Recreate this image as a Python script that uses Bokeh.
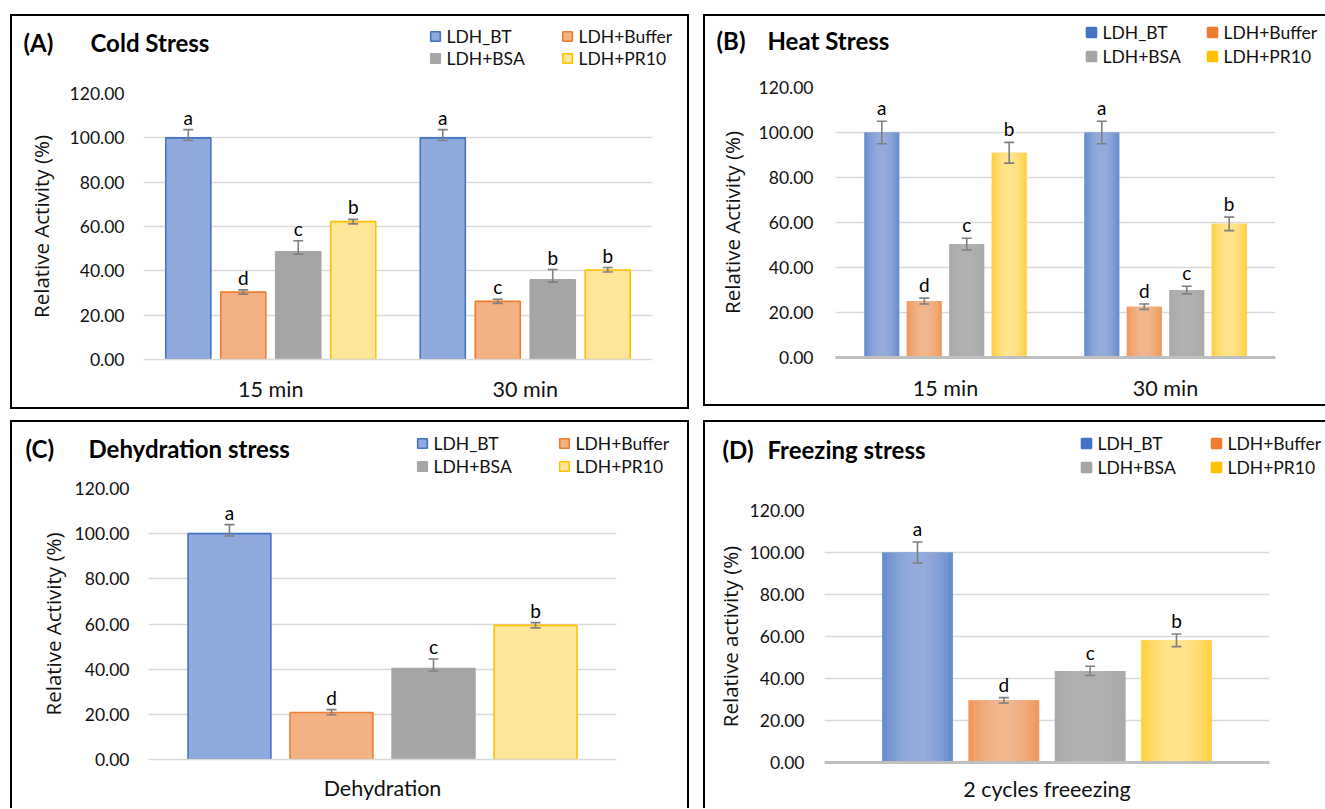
from bokeh.plotting import figure
from bokeh.models import (ColumnDataSource, FactorRange, Range1d, FixedTicker, Spacer,
                          NumeralTickFormatter, Whisker, TeeHead, Legend, LegendItem, Label)
from bokeh.transform import dodge
from bokeh.layouts import column, row
from bokeh.embed import file_html
from bokeh.resources import INLINE
from bokeh.core.properties import value

# ---------------- data ----------------
SERIES = ["LDH_BT", "LDH+Buffer", "LDH+BSA", "LDH+PR10"]
Y_TICKS = [0, 20, 40, 60, 80, 100, 120]

# (A) Cold Stress
A_CATS = ["15 min", "30 min"]
A_BT = [100.0, 100.0]
A_BUFFER = [30.4, 26.2]
A_BSA = [48.6, 35.9]
A_PR10 = [62.2, 40.4]
A_ERR_UP = [[3.7, 3.7], [1.0, 1.0], [5.0, 4.7], [1.0, 1.1]]
A_ERR_DN = [[1.2, 1.2], [0.9, 0.9], [1.1, 1.0], [1.0, 0.9]]
A_LETTERS = [["a", "a"], ["d", "c"], ["c", "b"], ["b", "b"]]

# (B) Heat Stress
B_CATS = ["15 min", "30 min"]
B_BT = [100.0, 100.0]
B_BUFFER = [25.1, 22.6]
B_BSA = [50.4, 30.0]
B_PR10 = [91.0, 59.4]
B_ERR_UP = [[5.0, 5.0], [1.3, 1.2], [2.6, 1.7], [4.6, 3.0]]
B_ERR_DN = [[5.0, 5.0], [1.3, 1.2], [2.6, 1.7], [4.6, 3.0]]
B_LETTERS = [["a", "a"], ["d", "d"], ["c", "c"], ["b", "b"]]

# (C) Dehydration stress
C_CATS = ["Dehydration"]
C_BT = [100.0]
C_BUFFER = [20.8]
C_BSA = [40.3]
C_PR10 = [59.4]
C_ERR_UP = [[4.0], [1.3], [4.2], [1.2]]
C_ERR_DN = [[1.0], [1.0], [1.1], [1.1]]
C_LETTERS = [["a"], ["d"], ["c"], ["b"]]

# (D) Freezing stress
D_CATS = ["2 cycles freeezing"]
D_BT = [100.0]
D_BUFFER = [29.6]
D_BSA = [43.6]
D_PR10 = [58.2]
D_ERR_UP = [[5.0], [1.3], [2.2], [3.0]]
D_ERR_DN = [[5.0], [1.3], [2.2], [3.0]]
D_LETTERS = [["a"], ["d"], ["c"], ["b"]]

# ---------------- styles ----------------
OUT_FILL = ["#8FAADC", "#F4B183", "#A5A5A5", "#FFE699"]
OUT_LINE = ["#4472C4", "#ED7D31", "#A5A5A5", "#FFC000"]
GRAD_DARK = ["#4472C4", "#ED7D31", "#A5A5A5", "#FFC000"]
GRAD_LIGHT = ["#A3B9E3", "#F7C3A0", "#B2B2B2", "#FFEBA8"]
ERR_COLOR = "#7F7F7F"
GRID_COLOR = "#D9D9D9"
TXT = "#111111"
BORDER = 2
NUM_FONT = "Lato"
SANS_FONT = "Open Sans"
GW, GH = 24, 30     # legend glyph box; the square key is drawn at 0.4 * GW


def panel(cats, vals, eup, edn, letters, tag, title, ylabel, gradient, g):
    sl, st, sr, sb = g["sides"]
    bl, bt, br, bb = [BORDER if s else 0 for s in (sl, st, sr, sb)]
    bx0, by0, bx1, by1 = g["box"]
    cx0, cy0 = bx0 + bl, by0 + bt
    cw, ch = bx1 - bx0 - bl - br, by1 - by0 - bt - bb
    hh = g["header_h"]
    fx0, fy0, fx1, fy1 = g["frame"]

    # ---------- chart ----------
    p = figure(width=cw, height=ch - hh, x_range=FactorRange(*cats), y_range=Range1d(0, 120),
               output_backend="svg", toolbar_location=None,
               min_border_left=fx0 - cx0, min_border_right=cx0 + cw - fx1,
               min_border_top=fy0 - (cy0 + hh), min_border_bottom=cy0 + ch - fy1)
    p.x_range.range_padding = 0
    p.outline_line_color = None
    p.background_fill_color = "white"
    p.border_fill_color = "white"
    p.xgrid.visible = False
    p.ygrid.grid_line_color = GRID_COLOR
    p.ygrid.grid_line_width = 1.3

    p.yaxis.ticker = FixedTicker(ticks=Y_TICKS)
    p.yaxis.formatter = NumeralTickFormatter(format="0.00")
    p.yaxis.axis_line_color = None
    p.yaxis.major_tick_line_color = None
    p.yaxis.minor_tick_line_color = None
    p.yaxis.major_tick_out = 0
    p.yaxis.major_tick_in = 0
    p.yaxis.major_label_standoff = fx0 - g["ytick_right"]
    p.yaxis.major_label_text_font = NUM_FONT
    p.yaxis.major_label_text_font_size = "17.5px"
    p.yaxis.major_label_text_color = TXT
    p.yaxis.axis_label = ylabel
    p.yaxis.axis_label_text_font = SANS_FONT
    p.yaxis.axis_label_text_font_size = "20.5px"
    p.yaxis.axis_label_text_font_style = "normal"
    p.yaxis.axis_label_text_color = TXT
    p.yaxis.axis_label_standoff = g["ylab_standoff"]

    p.xaxis.major_tick_line_color = None
    p.xaxis.minor_tick_line_color = None
    p.xaxis.major_tick_out = 0
    p.xaxis.major_tick_in = 0
    p.xaxis.major_label_standoff = g["xlab_standoff"]
    p.xaxis.major_label_text_font = NUM_FONT
    p.xaxis.major_label_text_font_size = "21.5px"
    p.xaxis.major_label_text_color = TXT
    if gradient:
        p.xaxis.axis_line_color = "#BFBFBF"
        p.xaxis.axis_line_width = 3
    else:
        p.xaxis.axis_line_color = GRID_COLOR
        p.xaxis.axis_line_width = 1.3

    bw, pitch = g["bar_w"], g["pitch"]
    for i in range(4):
        top = vals[i]
        src = ColumnDataSource(dict(
            x=cats, top=top,
            upper=[t + u for t, u in zip(top, eup[i])],
            lower=[t - d for t, d in zip(top, edn[i])],
            letter=letters[i]))
        xs = dodge("x", (i - 1.5) * pitch, range=p.x_range)
        if gradient:
            p.vbar(x=xs, top="top", width=bw, source=src,
                   fill_color=GRAD_DARK[i], line_color=None)
            p.vbar(x=xs, top="top", width=bw, source=src,
                   fill_color=GRAD_LIGHT[i], fill_alpha=0.4, line_color=None)
            for f in (0.86, 0.73, 0.61, 0.49, 0.37, 0.25):
                p.vbar(x=xs, top="top", width=bw * f, source=src,
                       fill_color=GRAD_LIGHT[i], fill_alpha=0.2, line_color=None)
        else:
            p.vbar(x=xs, top="top", width=bw, source=src,
                   fill_color=OUT_FILL[i], line_color=OUT_LINE[i], line_width=1.6)
        wk = Whisker(base=xs, upper="upper", lower="lower", source=src,
                     line_color=ERR_COLOR, line_width=1.6,
                     upper_head=TeeHead(size=10, line_color=ERR_COLOR, line_width=1.6),
                     lower_head=TeeHead(size=10, line_color=ERR_COLOR, line_width=1.6))
        wk.level = "annotation"
        p.add_layout(wk)
        p.text(x=xs, y="upper", text="letter", source=src, text_align="center",
               text_baseline="bottom", y_offset=-g["letter_gap"],
               text_font=value(NUM_FONT), text_font_size="19px", text_color="#000000")

    # ---------- header (title + legend) ----------
    h = figure(width=cw, height=hh, x_range=Range1d(0, cw), y_range=Range1d(0, hh),
               output_backend="svg", toolbar_location=None, x_axis_type=None, y_axis_type=None,
               min_border=0, min_border_left=0, min_border_right=0,
               min_border_top=0, min_border_bottom=0)
    h.outline_line_color = None
    h.xgrid.visible = False
    h.ygrid.visible = False
    h.background_fill_color = "white"
    h.border_fill_color = "white"
    # legend keys: one off-canvas point each, only used to draw the legend squares
    key_src = ColumnDataSource(dict(x=[-1000], y=[-1000]))
    keys = []
    for i in range(4):
        if gradient:
            r = h.scatter(x="x", y="y", source=key_src, marker="square",
                          fill_color=GRAD_DARK[i], line_color=GRAD_DARK[i], line_width=2)
        else:
            r = h.scatter(x="x", y="y", source=key_src, marker="square",
                          fill_color=OUT_FILL[i], line_color=OUT_LINE[i], line_width=1.6)
        keys.append(r)
    order = [(0, 0, 0), (1, 1, 0), (2, 0, 1), (3, 1, 1)]   # series, column, row
    for k, c, rr in order:
        sqx = g["leg_x"][c]
        cy = g["leg_y"][rr]
        lg = Legend(items=[LegendItem(label=SERIES[k], renderers=[keys[k]])],
                    location=(sqx - 8.5 - cx0, (cy0 + hh) - (cy + GH / 2)),
                    orientation="vertical", glyph_width=GW, glyph_height=GH,
                    label_height=GH, spacing=0, label_standoff=0,
                    padding=0, margin=0, border_line_color=None,
                    background_fill_alpha=0,
                    label_text_font=NUM_FONT, label_text_font_size="17.5px",
                    label_text_color=TXT)
        h.add_layout(lg)
    for txt, x in ((tag, g["tag_x"]), (title, g["title_x"])):
        h.add_layout(Label(x=x - cx0, y=(cy0 + hh) - g["title_cy"],
                           text=txt, text_font=NUM_FONT, text_font_size="24px",
                           text_font_style="bold", text_baseline="middle",
                           text_align="left", text_color="#000000"))

    css = {}
    for name, s in (("left", sl), ("top", st), ("right", sr), ("bottom", sb)):
        css["border-" + name] = (f"{BORDER}px solid #000" if s else "none")
    css["box-sizing"] = "content-box"
    return column(row(h), row(p), styles=css)


GA = dict(box=(10, 14, 689, 409), sides=(1, 1, 1, 1), frame=(143, 93, 652, 359), header_h=64,
          ytick_right=124, ylab_standoff=12, xlab_standoff=16, bar_w=0.177, pitch=0.216,
          letter_gap=1, leg_x=(431, 563), leg_y=(36, 58), tag_x=23, title_x=90, title_cy=42)
GB = dict(box=(703, 14, 1325, 406), sides=(1, 1, 0, 1), frame=(835, 87, 1275, 357), header_h=58,
          ytick_right=813, ylab_standoff=10, xlab_standoff=17, bar_w=0.159, pitch=0.193,
          letter_gap=2, leg_x=(1087, 1208), leg_y=(32, 56), tag_x=716, title_x=767, title_cy=40)
GC = dict(box=(10, 420, 689, 808), sides=(1, 1, 1, 0), frame=(148, 488, 616, 759), header_h=55,
          ytick_right=129, ylab_standoff=5, xlab_standoff=15, bar_w=0.177, pitch=0.218,
          letter_gap=1, leg_x=(418, 560), leg_y=(443, 466), tag_x=25, title_x=88, title_cy=448)
GD = dict(box=(703, 420, 1325, 808), sides=(1, 1, 0, 0), frame=(824, 510, 1269, 762), header_h=60,
          ytick_right=804, ylab_standoff=3, xlab_standoff=13, bar_w=0.159, pitch=0.194,
          letter_gap=2, leg_x=(1082, 1212), leg_y=(443, 467), tag_x=722, title_x=767, title_cy=449)

pA = panel(A_CATS, [A_BT, A_BUFFER, A_BSA, A_PR10], A_ERR_UP, A_ERR_DN, A_LETTERS,
           "(A)", "Cold Stress", "Relative Activity (%)", False, GA)
pB = panel(B_CATS, [B_BT, B_BUFFER, B_BSA, B_PR10], B_ERR_UP, B_ERR_DN, B_LETTERS,
           "(B)", "Heat Stress", "Relative Activity (%)", True, GB)
pC = panel(C_CATS, [C_BT, C_BUFFER, C_BSA, C_PR10], C_ERR_UP, C_ERR_DN, C_LETTERS,
           "(C)", "Dehydration stress", "Relative Activity (%)", False, GC)
pD = panel(D_CATS, [D_BT, D_BUFFER, D_BSA, D_PR10], D_ERR_UP, D_ERR_DN, D_LETTERS,
           "(D)", "Freezing stress", "Relative activity (%)", True, GD)

PAGE0 = 0   # the page template sets no body margin
row1_bottom = max(GA["box"][3], GB["box"][3])
layout = column(
    Spacer(width=10, height=GA["box"][1] - PAGE0),
    row(Spacer(width=GA["box"][0] - PAGE0, height=10), pA,
        Spacer(width=GB["box"][0] - GA["box"][2], height=10), pB),
    Spacer(width=10, height=GC["box"][1] - row1_bottom),
    row(Spacer(width=GC["box"][0] - PAGE0, height=10), pC,
        Spacer(width=GD["box"][0] - GC["box"][2], height=10), pD),
)
open("out.html", "w").write(file_html(layout, INLINE))
